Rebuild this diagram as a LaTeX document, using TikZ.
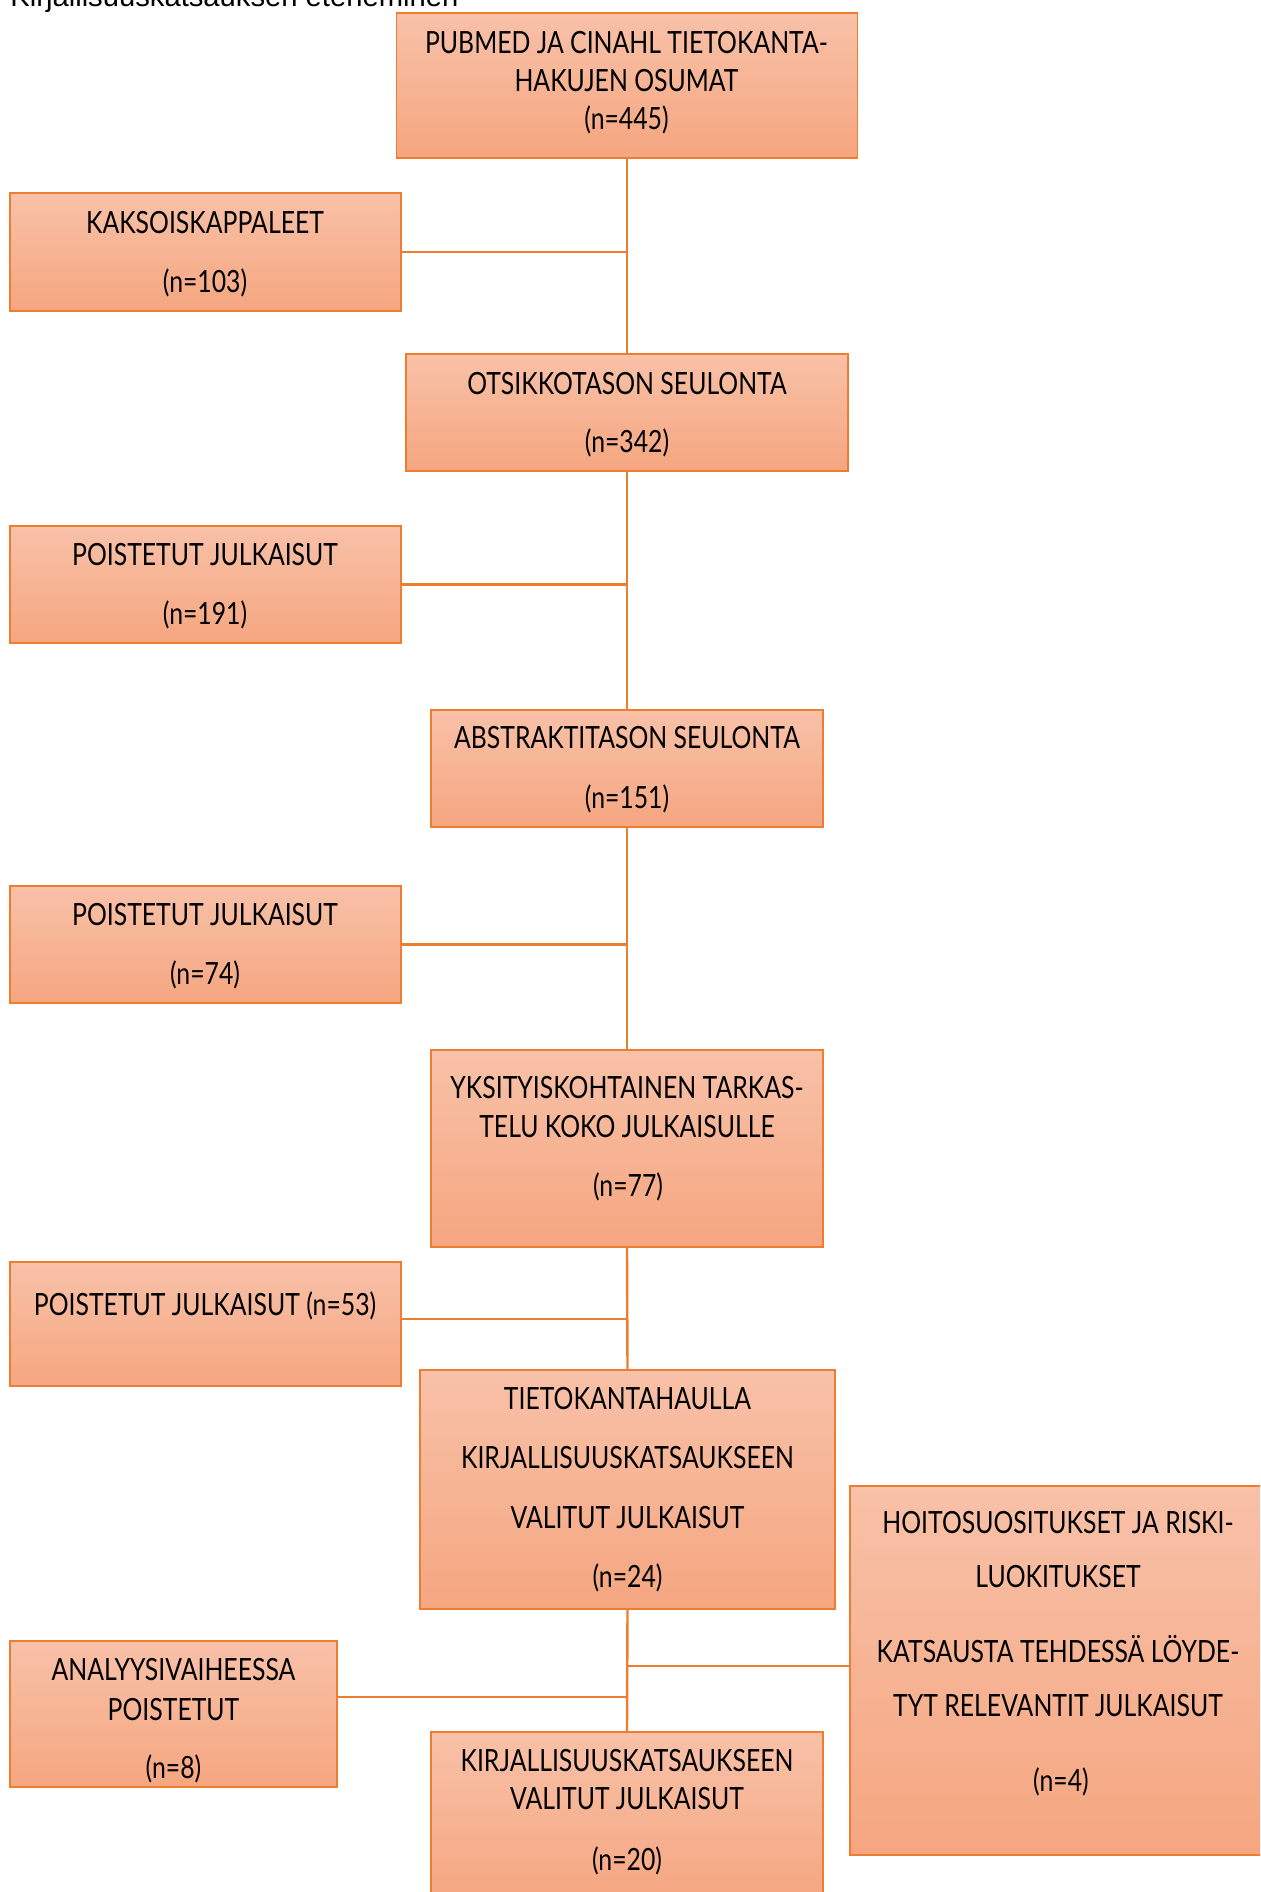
\documentclass[tikz,border=0pt]{standalone}
\usepackage{fontspec}
\setmainfont{Liberation Sans}
\newfontfamily\boxfont[FakeStretch=0.81]{Lato}
\definecolor{boxtop}{RGB}{248,193,168}
\definecolor{boxbot}{RGB}{245,166,128}
\definecolor{edge}{RGB}{237,125,49}
\tikzset{
  fbox/.style={draw=edge, line width=0.8pt, top color=boxtop, bottom color=boxbot, inner sep=0pt},
  lbl/.style={anchor=base, inner sep=0pt, font=\boxfont\fontsize{15.3}{18}\selectfont, text=black},
  conn/.style={draw=edge, line width=1.2pt}
}
\begin{document}
\begin{tikzpicture}[x=0.5pt,y=-0.5pt]
\useasboundingbox (0,0) rectangle (1260,1892);
\clip (0,0) rectangle (1260,1892);
% title
\node[anchor=base west, inner sep=0pt, font=\fontsize{14.6}{17}\selectfont] (title) at (10,6) {Kirjallisuuskatsauksen eteneminen};
% boxes
\node[fbox, minimum width=461*0.5pt, minimum height=145*0.5pt] (B1) at (627,85.5) {};
\node[fbox, minimum width=391*0.5pt, minimum height=118*0.5pt] (B2) at (205.5,252) {};
\node[fbox, minimum width=442*0.5pt, minimum height=117*0.5pt] (B3) at (627,412.5) {};
\node[fbox, minimum width=391*0.5pt, minimum height=117*0.5pt] (B4) at (205.5,584.5) {};
\node[fbox, minimum width=392*0.5pt, minimum height=117*0.5pt] (B5) at (627,768.5) {};
\node[fbox, minimum width=391*0.5pt, minimum height=117*0.5pt] (B6) at (205.5,944.5) {};
\node[fbox, minimum width=392*0.5pt, minimum height=197*0.5pt] (B7) at (627,1148.5) {};
\node[fbox, minimum width=391*0.5pt, minimum height=124*0.5pt] (B8) at (205.5,1324) {};
\node[fbox, minimum width=415*0.5pt, minimum height=239*0.5pt] (B9) at (627.5,1489.5) {};
\node[fbox, minimum width=413*0.5pt, minimum height=369*0.5pt] (B10) at (1056.5,1670.5) {};
\node[fbox, minimum width=327*0.5pt, minimum height=146*0.5pt] (B11) at (173.5,1714) {};
\node[fbox, minimum width=392*0.5pt, minimum height=170*0.5pt] (B12) at (627,1817) {};
% connectors
\draw[conn] (B1.south) -- (B3.north);
\draw[conn] (B2.east) -- (B2.east -| B1.south);
\draw[conn] (B3.south) -- (B5.north);
\draw[conn] (B4.east) -- (B4.east -| B3.south);
\draw[conn] (B5.south) -- (B7.north);
\draw[conn] (B6.east) -- (B6.east -| B5.south);
\draw[conn] (B7.south) -- (B9.north);
\coordinate (c8) at (401,1319);
\draw[conn] (c8) -- (c8 -| B7.south);
\draw[conn] (B9.south) -- (B12.north);
\coordinate (c10) at (850,1666);
\draw[conn] (c10) -- (c10 -| B9.south);
\coordinate (c11) at (337,1697);
\draw[conn] (c11) -- (c11 -| B9.south);
% labels
\node[lbl] (t1a) at (626.5,53) {PUBMED JA CINAHL TIETOKANTA-};
\node[lbl] (t1b) at (626.5,91) {HAKUJEN OSUMAT};
\node[lbl] (t1c) at (626.5,129) {(n=445)};
\node[lbl] (t2a) at (205,233) {KAKSOISKAPPALEET};
\node[lbl] (t2b) at (205,292) {(n=103)};
\node[lbl] (t3a) at (627,394) {OTSIKKOTASON SEULONTA};
\node[lbl] (t3b) at (627,452) {(n=342)};
\node[lbl] (t4a) at (205,565) {POISTETUT JULKAISUT};
\node[lbl] (t4b) at (205,624) {(n=191)};
\node[lbl] (t5a) at (627,748) {ABSTRAKTITASON SEULONTA};
\node[lbl] (t5b) at (627,808) {(n=151)};
\node[lbl] (t6a) at (205,925) {POISTETUT JULKAISUT};
\node[lbl] (t6b) at (205,984) {(n=74)};
\node[lbl] (t7a) at (627,1098) {YKSITYISKOHTAINEN TARKAS-};
\node[lbl] (t7b) at (627,1137) {TELU KOKO JULKAISULLE};
\node[lbl] (t7c) at (628,1196) {(n=77)};
\node[lbl] (t8a) at (205,1315) {POISTETUT JULKAISUT (n=53)};
\node[lbl] (t9a) at (627.5,1409) {TIETOKANTAHAULLA};
\node[lbl] (t9b) at (627.5,1468) {KIRJALLISUUSKATSAUKSEEN};
\node[lbl] (t9c) at (627.5,1528) {VALITUT JULKAISUT};
\node[lbl] (t9d) at (627.5,1587) {(n=24)};
\node[lbl] (t10a) at (1058,1533) {HOITOSUOSITUKSET JA RISKI-};
\node[lbl] (t10b) at (1058,1587) {LUOKITUKSET};
\node[lbl] (t10c) at (1058,1662) {KATSAUSTA TEHDESSÄ LÖYDE-};
\node[lbl] (t10d) at (1058,1716) {TYT RELEVANTIT JULKAISUT};
\node[lbl] (t10e) at (1061,1791) {(n=4)};
\node[lbl] (t11a) at (173.5,1680) {ANALYYSIVAIHEESSA};
\node[lbl] (t11b) at (173.5,1720) {POISTETUT};
\node[lbl] (t11c) at (173.5,1778) {(n=8)};
\node[lbl] (t12a) at (627,1771) {KIRJALLISUUSKATSAUKSEEN};
\node[lbl] (t12b) at (627,1809) {VALITUT JULKAISUT};
\node[lbl] (t12c) at (627,1870) {(n=20)};
\end{tikzpicture}
\end{document}
